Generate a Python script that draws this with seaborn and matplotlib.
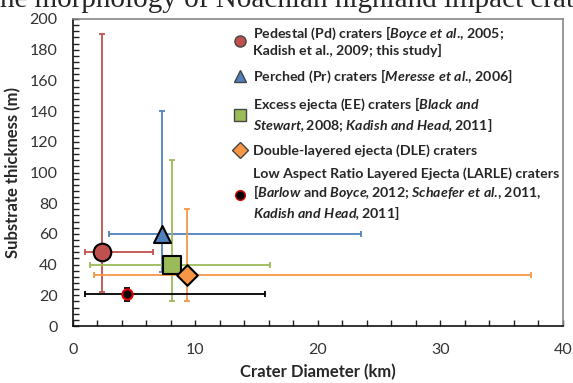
import matplotlib
matplotlib.use("Agg")
from matplotlib import pyplot as plt
from matplotlib.lines import Line2D
from matplotlib.ticker import MultipleLocator
import seaborn as sns

# Dane: srednica krateru (km) i grubosc podloza (m)
names = ['Pd', 'Pr', 'EE', 'DLE', 'LARLE']
diameter = [2.4, 7.3, 8.1, 9.3, 4.4]
diam_low = [1.0, 2.9, 1.4, 1.7, 1.0]
diam_high = [6.5, 23.5, 16.1, 37.4, 15.7]
thickness = [48, 60, 40, 33, 21]
thick_low = [22, 35, 16, 16, 16.5]
thick_high = [190, 140, 108, 76, 25]

labels = [
    'Pedestal (Pd) craters [$\\mathbfit{Boyce\\ et\\ al}$., 2005;\nKadish et al., 2009; this study]',
    'Perched (Pr) craters [$\\mathbfit{Meresse\\ et\\ al}$., 2006]',
    'Excess ejecta (EE) craters [$\\mathbfit{Black\\ and}$\n$\\mathbfit{Stewart,}$2008; $\\mathbfit{Kadish\\ and\\ Head,}$2011]',
    'Double-layered ejecta (DLE) craters',
    'Low Aspect Ratio Layered Ejecta (LARLE) craters\n[$\\mathbfit{Barlow}$ and $\\mathbfit{Boyce,}$2012; $\\mathbfit{Schaefer\\ et\\ al}$., 2011,\n$\\mathbfit{Kadish\\ and\\ Head,}$2011]',
]

colors = ['#C0504D', '#4F81BD', '#9BBB59', '#F79646', '#000000']
faces = ['#C0504D', '#4F81BD', '#9BBB59', '#F79646', '#000000']
edges = ['#000000', '#000000', '#000000', '#000000', '#E00000']
markers = ['o', '^', 's', 'D', 'o']
sizes = [160, 150, 150, 110, 55]

sns.set_style("ticks")
plt.rcParams['font.family'] = ['Lato', 'DejaVu Sans']
plt.rcParams['mathtext.fontset'] = 'custom'
plt.rcParams['mathtext.bfit'] = 'Lato:italic:bold'
plt.rcParams['mathtext.it'] = 'Lato:italic:bold'
plt.rcParams['mathtext.rm'] = 'Lato:bold'

fig = plt.figure(figsize=(5.73, 3.83), dpi=100)
ax = fig.add_axes([0.1274, 0.1488, 0.8551, 0.8016])

for i in range(len(names)):
    ax.errorbar(
        diameter[i], thickness[i],
        xerr=[[diameter[i] - diam_low[i]], [diam_high[i] - diameter[i]]],
        yerr=[[thickness[i] - thick_low[i]], [thick_high[i] - thickness[i]]],
        fmt='none', ecolor=colors[i], elinewidth=1.3, capsize=2.5, capthick=1.3,
        zorder=2
    )

for i in range(len(names)):
    sns.scatterplot(
        x=[diameter[i]], y=[thickness[i]], marker=markers[i], s=sizes[i],
        color=faces[i], edgecolor=edges[i], linewidth=1.5, ax=ax, zorder=3,
        legend=False
    )

ax.set_xlim(0, 40)
ax.set_ylim(0, 200)
ax.xaxis.set_major_locator(MultipleLocator(10))
ax.xaxis.set_minor_locator(MultipleLocator(2))
ax.yaxis.set_major_locator(MultipleLocator(20))
ax.yaxis.set_minor_locator(MultipleLocator(4))
ax.tick_params(which='both', direction='in', length=4, width=1, color='#222222',
               top=False, right=False)
ax.tick_params(axis='y', which='major', labelsize=11.5, pad=11, labelcolor='#333333')
ax.tick_params(axis='x', which='major', labelsize=11.5, pad=12, labelcolor='#333333')

for side in ['left', 'bottom']:
    ax.spines[side].set_color('#111111')
    ax.spines[side].set_linewidth(1.2)
for side in ['top', 'right']:
    ax.spines[side].set_visible(True)
    ax.spines[side].set_color('#888888')
    ax.spines[side].set_linewidth(1.2)

ax.set_xlabel('Crater Diameter (km)', fontsize=12, fontweight='bold', labelpad=5)
ax.set_ylabel('Substrate thickness (m)', fontsize=12, fontweight='bold', labelpad=6)

handles = [
    Line2D([], [], linestyle='none', marker=markers[i], markersize=8 if i < 4 else 7,
           markerfacecolor=faces[i], markeredgecolor=edges[i] if i == 4 else '#444444',
           markeredgewidth=1)
    for i in range(len(names))
]
leg = ax.legend(handles, labels, loc='upper left', bbox_to_anchor=(0.318, 1.0),
                frameon=False, prop={'weight': 'bold', 'size': 10.2},
                handlelength=0.8, handletextpad=0.5, labelspacing=0.75,
                borderaxespad=0)
for t in leg.get_texts():
    t.set_linespacing(1.2)

fig.text(0.0, 1 - 13 / 383, 'he morphology of Noachian highland impact crat',
         fontsize=21, family='Liberation Serif', va='bottom', ha='left')

fig.savefig('out.png', dpi=100)
